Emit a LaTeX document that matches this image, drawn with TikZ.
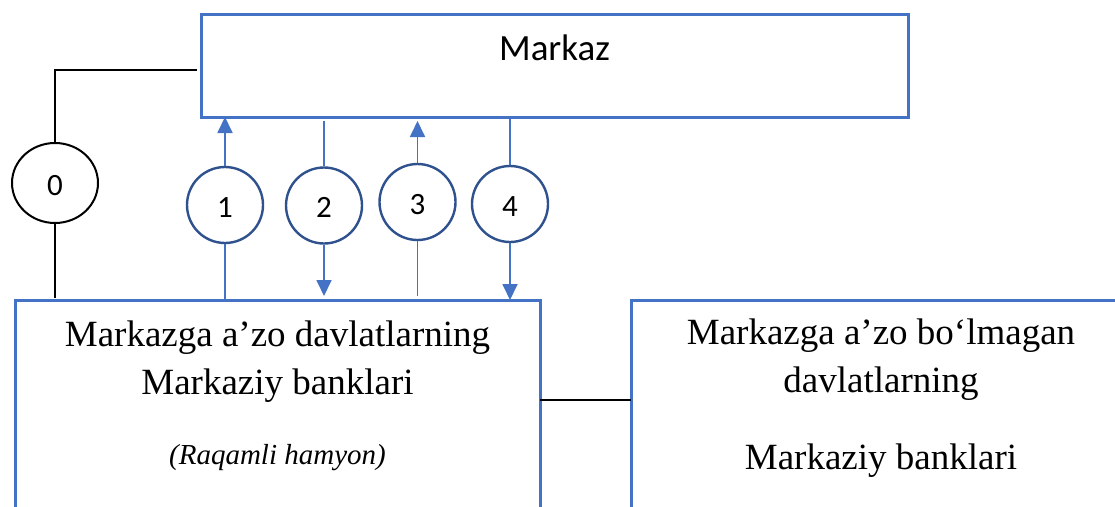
\documentclass[tikz,border=0pt]{standalone}
\usepackage{fontspec}
\setmainfont{Liberation Serif}
\newfontfamily\calibfont{Carlito}
\usepackage{xcolor}
\usepackage{tikz}
\usetikzlibrary{shapes.geometric,arrows.meta,positioning}
\definecolor{colorB}{RGB}{68,114,196}
\definecolor{colorD}{RGB}{47,82,143}
\tikzstyle{box}=[draw=colorB, line width=3pt, rectangle, outer sep=0pt, inner sep=0pt]
\tikzstyle{num}=[ellipse, draw=colorD, fill=white, line width=2.4pt, minimum width=76pt, minimum height=76pt, inner sep=0pt, text height=24pt, text depth=0pt, font={\calibfont\fontsize{31}{31}\selectfont}]
\tikzstyle{title}=[inner sep=0pt, font={\calibfont\fontsize{37}{37}\selectfont}]
\tikzstyle{txt}=[inner sep=0pt, align=center, font={\fontsize{37}{48}\selectfont}]
\tikzstyle{link}=[draw, black, line width=2pt]
\tikzstyle{wire}=[draw, colorB, line width=1.8pt]
\tikzstyle{flow}=[wire, -{Triangle[length=16pt,width=15pt]}]

\begin{document}
\begin{tikzpicture}[x=1pt, y=-1pt]
\useasboundingbox (0,0) rectangle (1115,506);

\node[box, minimum width=707pt, minimum height=103pt] (markaz) at (554.5,65.5) {};
\node[title, below=46pt of markaz.north, anchor=base] (markaz_txt) {Markaz};

\node[box, minimum width=525pt, minimum height=240pt, below right=183pt and -186pt of markaz.south west] (member) {};
\node[box, minimum width=500pt, minimum height=240pt, right=91pt of member.north east, anchor=north west] (other) {};

\node[txt, below=20.7pt of member.north] (member_txt) {Markazga a’zo davlatlarning\\Markaziy banklari};
\node[txt, font={\itshape\fontsize{29}{34}\selectfont}, below=164pt of member.north, anchor=base] (wallet) {(Raqamli hamyon)};
\node[txt, below=18.7pt of other.north] (other_txt) {Markazga a’zo bo‘lmagan\\davlatlarning\\[29pt]Markaziy banklari};

% numbered flows
\node[num, draw=black, line width=2pt, minimum width=86pt, minimum height=80pt] (c0) at (55,183) {0};
\node[num] (c1) at (225,205) {1};
\node[num, on grid, below right=0.5pt and 99pt of c1] (c2) {2};
\node[num, on grid, above right=3.5pt and 93.5pt of c2] (c3) {3};
\node[num, on grid, below right=2pt and 92.5pt of c3] (c4) {4};

\draw[link, shorten <=4pt] ([yshift=-4pt]markaz.west) -| (c0.north);
\draw[link, shorten >=2pt] (c0.south) -- (c0 |- member.north);
\draw[link] ([yshift=-100pt]member.north east) -- ([yshift=-100pt]member.north east -| other.west);

\draw[flow] (c1.north) -- (c1 |- markaz.south);
\draw[wire] (c1.south) -- (c1 |- member.north);
\draw[wire, shorten >=4pt] (c2.north) -- (c2 |- markaz.south);
\draw[flow, shorten >=4pt] (c2.south) -- (c2 |- member.north);
\draw[flow, shorten >=4pt] (c3.north) -- (c3 |- markaz.south);
\draw[wire, shorten >=4pt] (c3.south) -- (c3 |- member.north);
\draw[wire] (c4.north) -- (c4 |- markaz.south);
\draw[flow] (c4.south) -- (c4 |- member.north);

\end{tikzpicture}
\end{document}
